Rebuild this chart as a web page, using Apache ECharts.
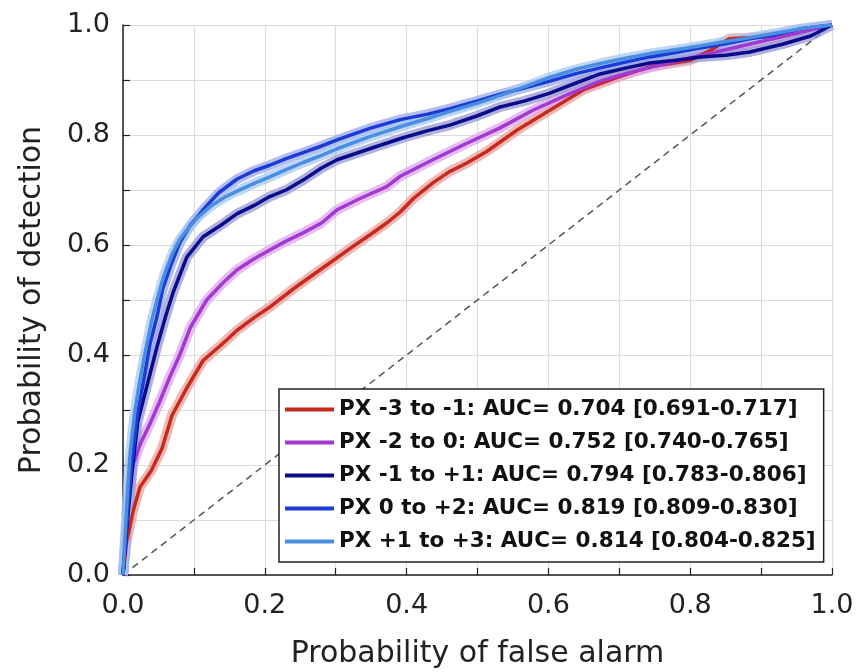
<!DOCTYPE html>
<html lang="en">
<head>
<meta charset="utf-8">
<title>ROC curves</title>
<script src="https://cdn.jsdelivr.net/npm/echarts@6/dist/echarts.min.js"></script>
<style>
  html, body { margin: 0; padding: 0; background: #fff; }
  #main { width: 857px; height: 672px; }
</style>
</head>
<body>
<div id="main"></div>
<script>
// curve points (false alarm -> detection)
var redX = [0, 0.005, 0.015, 0.024, 0.04, 0.055, 0.069, 0.09, 0.113, 0.14, 0.161, 0.185, 0.207, 0.24, 0.278, 0.3, 0.324, 0.35, 0.372, 0.391, 0.41, 0.437, 0.46, 0.485, 0.513, 0.556, 0.602, 0.649, 0.697, 0.743, 0.8, 0.83, 0.855, 0.9, 0.93, 0.96, 1.0];
var redY = [0, 0.06, 0.12, 0.16, 0.19, 0.23, 0.29, 0.34, 0.39, 0.42, 0.445, 0.468, 0.487, 0.52, 0.555, 0.575, 0.597, 0.62, 0.64, 0.66, 0.685, 0.713, 0.733, 0.749, 0.77, 0.809, 0.845, 0.882, 0.905, 0.924, 0.936, 0.955, 0.975, 0.978, 0.98, 0.99, 1.0];

var purpleX = [0, 0.005, 0.014, 0.025, 0.038, 0.05, 0.066, 0.08, 0.095, 0.118, 0.14, 0.161, 0.185, 0.207, 0.23, 0.254, 0.28, 0.302, 0.335, 0.372, 0.391, 0.437, 0.485, 0.532, 0.578, 0.626, 0.673, 0.719, 0.76, 0.8, 0.85, 0.9, 0.95, 1.0];
var purpleY = [0, 0.09, 0.2, 0.24, 0.275, 0.31, 0.36, 0.4, 0.45, 0.5, 0.53, 0.555, 0.575, 0.591, 0.607, 0.622, 0.64, 0.664, 0.685, 0.706, 0.725, 0.755, 0.785, 0.813, 0.845, 0.873, 0.898, 0.915, 0.928, 0.94, 0.955, 0.97, 0.985, 1.0];

var navyX = [0, 0.005, 0.012, 0.021, 0.034, 0.048, 0.06, 0.071, 0.09, 0.113, 0.137, 0.161, 0.185, 0.207, 0.23, 0.254, 0.28, 0.302, 0.348, 0.395, 0.43, 0.461, 0.5, 0.532, 0.567, 0.602, 0.64, 0.673, 0.71, 0.743, 0.78, 0.814, 0.85, 0.884, 0.93, 0.97, 1.0];
var navyY = [0, 0.08, 0.18, 0.28, 0.345, 0.415, 0.47, 0.515, 0.578, 0.615, 0.635, 0.657, 0.672, 0.688, 0.7, 0.718, 0.74, 0.755, 0.775, 0.795, 0.808, 0.818, 0.835, 0.851, 0.862, 0.876, 0.895, 0.911, 0.922, 0.931, 0.936, 0.942, 0.945, 0.951, 0.965, 0.98, 1.0];

var blueX = [0, 0.005, 0.012, 0.02, 0.03, 0.038, 0.048, 0.056, 0.068, 0.08, 0.095, 0.113, 0.135, 0.161, 0.185, 0.207, 0.23, 0.254, 0.28, 0.302, 0.348, 0.391, 0.43, 0.461, 0.5, 0.532, 0.567, 0.602, 0.64, 0.673, 0.71, 0.743, 0.78, 0.814, 0.85, 0.884, 0.92, 0.955, 1.0];
var blueY = [0, 0.09, 0.2, 0.29, 0.36, 0.42, 0.47, 0.52, 0.565, 0.604, 0.636, 0.664, 0.695, 0.72, 0.735, 0.745, 0.757, 0.768, 0.78, 0.791, 0.812, 0.828, 0.838, 0.848, 0.862, 0.874, 0.886, 0.898, 0.912, 0.922, 0.933, 0.942, 0.95, 0.958, 0.966, 0.975, 0.982, 0.993, 1.0];

var lightX = [0, 0.004, 0.01, 0.017, 0.024, 0.032, 0.04, 0.048, 0.058, 0.07, 0.08, 0.09, 0.105, 0.125, 0.145, 0.161, 0.185, 0.207, 0.23, 0.254, 0.28, 0.302, 0.348, 0.391, 0.43, 0.461, 0.5, 0.532, 0.567, 0.602, 0.64, 0.673, 0.71, 0.743, 0.78, 0.814, 0.85, 0.884, 0.92, 0.955, 1.0];
var lightY = [0, 0.1, 0.22, 0.3, 0.355, 0.41, 0.46, 0.5, 0.545, 0.585, 0.61, 0.627, 0.65, 0.672, 0.688, 0.698, 0.712, 0.724, 0.737, 0.75, 0.763, 0.775, 0.797, 0.815, 0.83, 0.843, 0.858, 0.872, 0.888, 0.905, 0.92, 0.93, 0.94, 0.948, 0.955, 0.962, 0.97, 0.977, 0.985, 0.993, 1.0];

var chanceX = [0, 1];
var chanceY = [0, 1];

var names = [
    'PX -3 to -1: AUC= 0.704 [0.691-0.717]',
    'PX -2 to 0: AUC= 0.752 [0.740-0.765]',
    'PX -1 to +1: AUC= 0.794 [0.783-0.806]',
    'PX 0 to +2: AUC= 0.819 [0.809-0.830]',
    'PX +1 to +3: AUC= 0.814 [0.804-0.825]'
];
var colors = ['#c8281e', '#a23ad2', '#0a0a8c', '#1c3bd6', '#4a8ee2'];
var haloColors = ['#eaa39c', '#dda6ee', '#9797d2', '#98a8ee', '#aac8f0'];

function zip(xs, ys) {
    var out = [];
    for (var i = 0; i < xs.length; i++) {
        out.push([xs[i], ys[i]]);
    }
    return out;
}

var curves = [zip(redX, redY), zip(purpleX, purpleY), zip(navyX, navyY), zip(blueX, blueY), zip(lightX, lightY)];

var series = [];
// main lines first so the legend picks their colours
for (var i = 0; i < curves.length; i++) {
    series.push({
        name: names[i], type: 'line', data: curves[i], showSymbol: false,
        color: colors[i], z: 4,
        lineStyle: { width: 3.5, color: colors[i] }
    });
}
// light band around each curve
for (var j = 0; j < curves.length; j++) {
    series.push({
        name: 'band' + j, type: 'line', data: curves[j], showSymbol: false,
        z: 3, silent: true,
        lineStyle: { width: 10, color: haloColors[j], opacity: 0.75 }
    });
}
series.push({
    name: 'chance', type: 'line', data: zip(chanceX, chanceY), showSymbol: false,
    z: 2, silent: true,
    lineStyle: { width: 1.5, color: '#555', type: [7, 5] }
});

var myChart = echarts.init(document.getElementById('main'));
var option = {
    animation: false,
    backgroundColor: '#fff',
    grid: { left: 123, right: 25, top: 25, bottom: 97, outerBoundsMode: 'none' },
    legend: {
        data: names,
        orient: 'vertical',
        left: 279, top: 389,
        backgroundColor: '#fff',
        borderColor: '#222', borderWidth: 1.5, borderRadius: 0,
        padding: [9, 8, 9, 6],
        itemGap: 10,
        icon: 'rect', itemWidth: 49, itemHeight: 4,
        textStyle: { fontFamily: 'DejaVu Sans', fontWeight: 'bold', fontSize: 21.5, color: '#111', lineHeight: 23 }
    },
    xAxis: {
        type: 'value', min: 0, max: 1, interval: 0.1,
        name: 'Probability of false alarm', nameLocation: 'middle', nameGap: 64,
        nameTextStyle: { fontFamily: 'DejaVu Sans', fontSize: 30, color: '#222' },
        axisLine: { lineStyle: { color: '#222', width: 1.5 } },
        axisTick: { inside: true, length: 7, lineStyle: { color: '#222', width: 1.2 } },
        axisLabel: {
            margin: 17, fontFamily: 'DejaVu Sans', fontSize: 27, color: '#222',
            formatter: function (v) { return Math.round(v * 10) % 2 === 0 ? v.toFixed(1) : ''; }
        },
        splitLine: { show: true, lineStyle: { color: '#dcdcdc', width: 1.2 } }
    },
    yAxis: {
        type: 'value', min: 0, max: 1, interval: 0.1,
        name: 'Probability of detection', nameLocation: 'middle', nameGap: 76, nameRotate: 90,
        nameTextStyle: { fontFamily: 'DejaVu Sans', fontSize: 30, color: '#222' },
        axisLine: { show: true, lineStyle: { color: '#222', width: 1.5 } },
        axisTick: { show: true, inside: true, length: 7, lineStyle: { color: '#222', width: 1.2 } },
        axisLabel: {
            margin: 13, fontFamily: 'DejaVu Sans', fontSize: 27, color: '#222',
            formatter: function (v) { return Math.round(v * 10) % 2 === 0 ? v.toFixed(1) : ''; }
        },
        splitLine: { show: true, lineStyle: { color: '#dcdcdc', width: 1.2 } }
    },
    series: series
};
myChart.setOption(option);
</script>
</body>
</html>
